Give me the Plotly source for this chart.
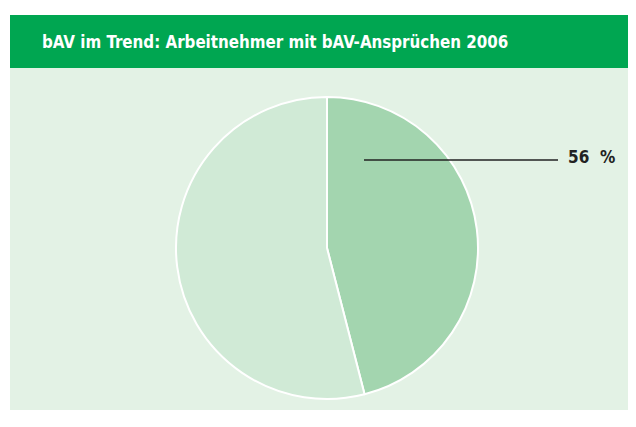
import plotly.graph_objects as go

W, H = 636, 427
labels = ["mit bAV-Ansprüchen", "ohne bAV-Ansprüche"]
values = [46, 54]
colors = ["#A3D5AF", "#D0EAD6"]
label_text = "56 %"
title_text = "bAV im Trend: Arbeitnehmer mit bAV-Ansprüchen 2006"

def px(x):
    return x / W

def py(y):
    return 1 - y / H

cx, cy, r = 327, 248, 151

fig = go.Figure()
fig.add_trace(go.Pie(
    labels=labels, values=values, sort=False, direction="clockwise", rotation=0,
    marker=dict(colors=colors, line=dict(color="white", width=2)),
    textinfo="none", hoverinfo="label+percent", showlegend=False,
    domain=dict(x=[px(cx - r), px(cx + r)], y=[py(cy + r), py(cy - r)]),
))

shapes = [
    dict(type="rect", xref="paper", yref="paper", x0=px(10), x1=px(628), y0=py(68), y1=py(15),
         fillcolor="#00A651", line=dict(width=0), layer="below"),
    dict(type="rect", xref="paper", yref="paper", x0=px(10), x1=px(628), y0=py(410), y1=py(68),
         fillcolor="#E3F2E5", line=dict(width=0), layer="below"),
    dict(type="line", xref="paper", yref="paper", x0=px(364), x1=px(558), y0=py(160), y1=py(160),
         line=dict(color="#222222", width=1.5), layer="above"),
]

annotations = [
    dict(text="<b>" + title_text + "</b>", xref="paper", yref="paper", x=px(40), y=py(42),
         xanchor="left", yanchor="middle", showarrow=False,
         font=dict(family="DejaVu Sans Condensed, sans-serif", size=16.8, color="white")),
    dict(text="<b>" + label_text.replace(" ", "&nbsp;&nbsp;") + "</b>", xref="paper", yref="paper", x=px(566), y=py(157),
         xanchor="left", yanchor="middle", showarrow=False,
         font=dict(family="DejaVu Sans Condensed, sans-serif", size=17, color="#222222")),
]

fig.update_layout(
    width=W, height=H, margin=dict(l=0, r=0, t=0, b=0),
    paper_bgcolor="white", plot_bgcolor="white",
    shapes=shapes, annotations=annotations,
)

fig.write_html("out.html")
